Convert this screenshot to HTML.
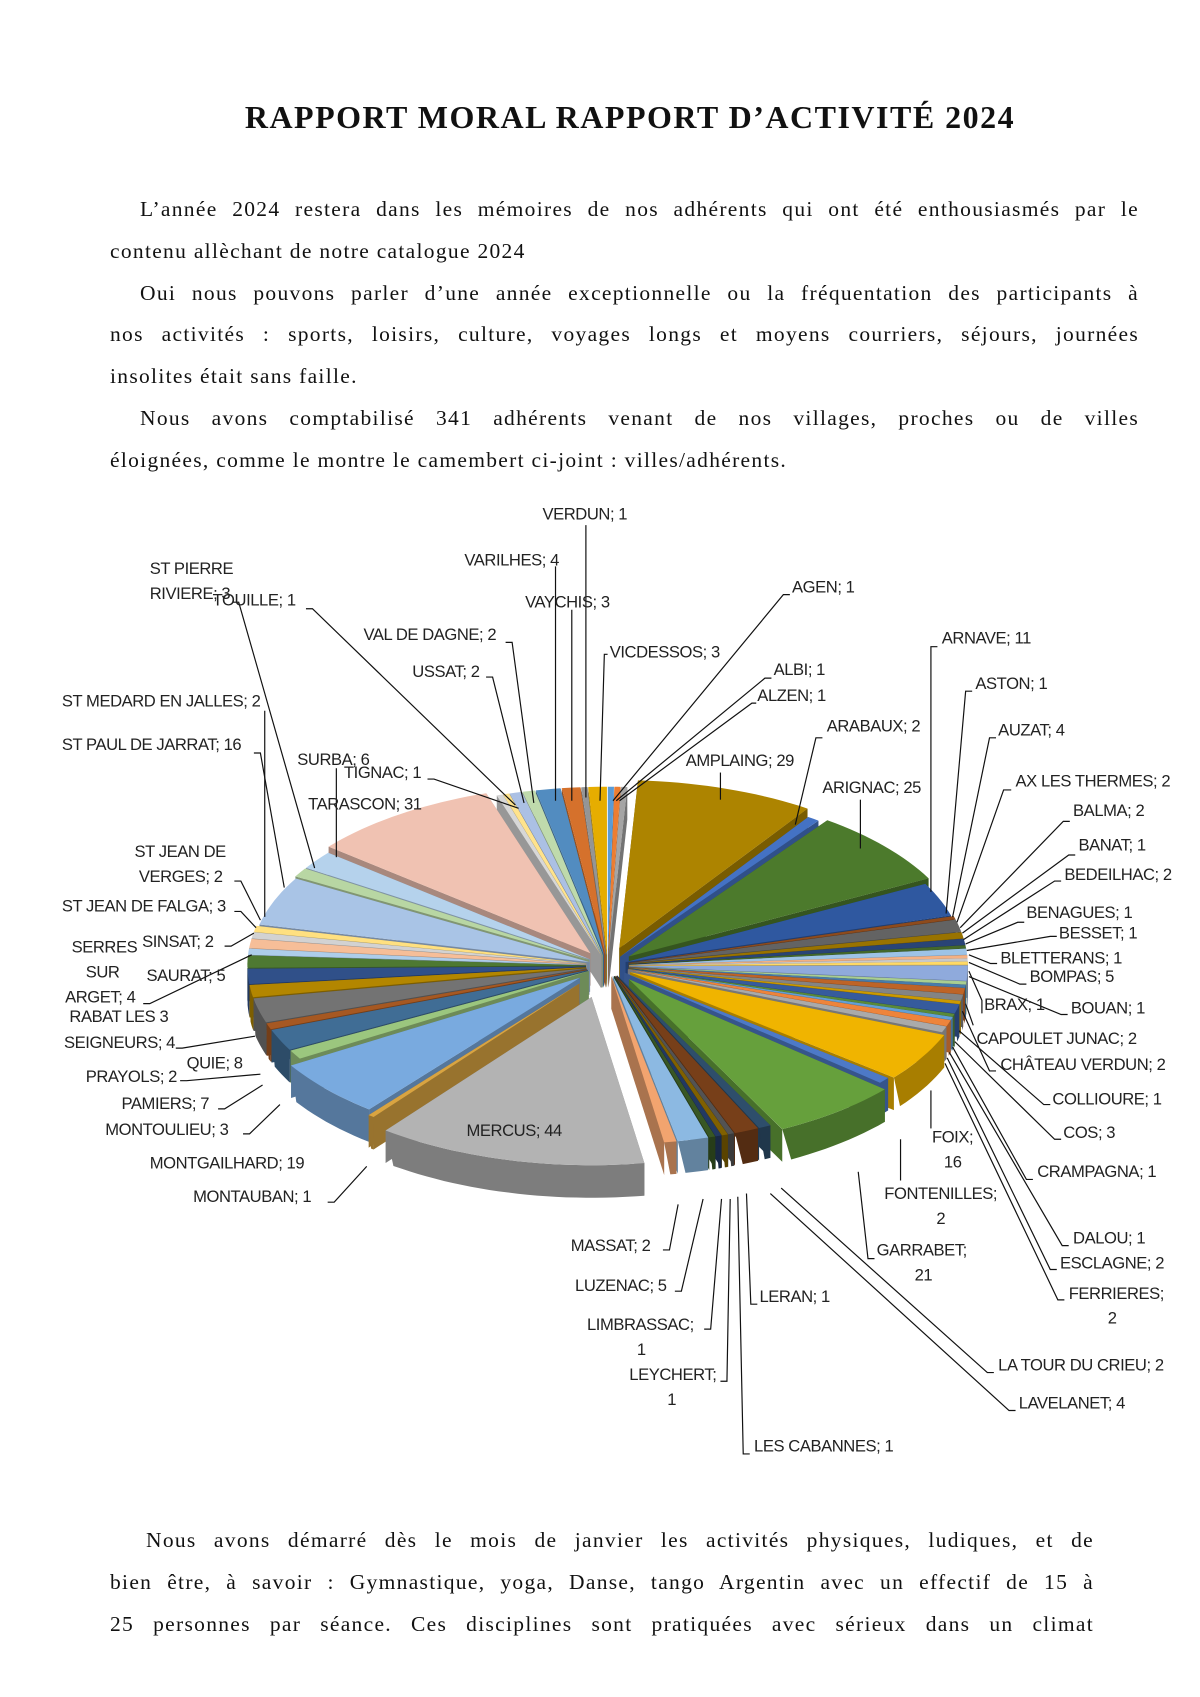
<!DOCTYPE html>
<html><head><meta charset="utf-8"><style>
html,body{margin:0;padding:0;background:#fff}
body{width:1200px;height:1697px;position:relative;overflow:hidden;font-family:"Liberation Serif",serif;color:#111}
h1{position:absolute;top:95px;left:30px;width:1200px;text-align:center;margin:0;font-size:32px;font-weight:bold;letter-spacing:1.5px;line-height:44px}
.p{position:absolute;font-size:21.5px;line-height:41.8px;letter-spacing:1.3px}
.p div{text-align:justify;text-align-last:justify;white-space:nowrap;height:41.8px}
.p div.l{text-align-last:left}
.p div.i{padding-left:30px}
svg{position:absolute;left:0;top:0}
svg text{font-family:"Liberation Sans",sans-serif;font-size:15.3px;fill:#222;letter-spacing:-0.4px}
</style></head><body>
<h1>RAPPORT MORAL RAPPORT D’ACTIVITÉ 2024</h1>
<div class="p" style="left:110px;top:189px;width:1029px">
<div class="i">L’année 2024 restera dans les mémoires de nos adhérents qui ont été enthousiasmés par le</div>
<div class="l">contenu allèchant de notre catalogue 2024</div>
<div class="i">Oui nous pouvons parler d’une année exceptionnelle ou la fréquentation des participants à</div>
<div>nos activités : sports, loisirs, culture, voyages longs et moyens courriers, séjours, journées</div>
<div class="l">insolites était sans faille.</div>
<div class="i">Nous avons comptabilisé 341 adhérents venant de nos villages, proches ou de villes</div>
<div class="l">éloignées, comme le montre le camembert ci-joint : villes/adhérents.</div>
</div>
<div class="p" style="left:110px;top:1520px;width:984px">
<div style="padding-left:36px">Nous avons démarré dès le mois de janvier les activités physiques, ludiques, et de</div>
<div>bien être, à savoir : Gymnastique, yoga, Danse, tango Argentin avec un effectif de 15 à</div>
<div>25 personnes par séance. Ces disciplines sont pratiquées avec sérieux dans un climat</div>
</div>
<svg width="1200" height="1697" viewBox="0 0 1106 1564" xmlns="http://www.w3.org/2000/svg">
<g id="pie"></g>
<g stroke="#111" stroke-width="1.1" fill="none">
<path d="M540 484V735"/><path d="M512 522V738"/><path d="M527 562V738"/><path d="M560 603H557L553 738"/>
<path d="M728 548H722L565 738"/><path d="M711 625H705L568 738"/><path d="M697 648H693L571 738"/>
<path d="M664 712V737"/><path d="M758 680H752L733 760"/><path d="M793 737V782"/>
<path d="M864 596H858V822"/><path d="M896 637H890L872 842"/><path d="M918 680H912L878 845"/>
<path d="M932 728H925L882 850"/><path d="M986 757H980L885 855"/><path d="M991 788H985L887 860"/>
<path d="M978 812H972L888 866"/><path d="M944 850H938L890 870"/><path d="M974 863H968L891 876"/>
<path d="M919 888H913L893 880"/><path d="M946 907H940L893 887"/><path d="M905 934V922L893 895"/>
<path d="M984 935H978L893 900"/><path d="M897 945L890 925"/><path d="M918 987H912L887 932"/>
<path d="M968 1018H962L884 950"/><path d="M978 1050H972L880 960"/><path d="M952 1087H946L878 965"/>
<path d="M985 1148H979L875 970"/><path d="M974 1170H968L873 975"/><path d="M981 1198H975L871 980"/>
<path d="M858 1040V1005"/><path d="M830 1088V1050"/><path d="M806 1160H800L791 1080"/>
<path d="M916 1265H910L720 1095"/><path d="M936 1300H930L710 1100"/><path d="M698 1202H692L688 1100"/>
<path d="M691 1340H685L680 1103"/><path d="M664 1273H670L673 1105"/><path d="M649 1225H655L665 1105"/>
<path d="M622 1190H628L648 1105"/><path d="M611 1152H617L625 1110"/><path d="M302 1108H308L338 1075"/>
<path d="M224 1045H230L258 1018"/><path d="M201 1022H207L242 1000"/><path d="M166 996H172L240 990"/>
<path d="M162 966H168L235 955"/><path d="M132 925H138L232 880"/><path d="M207 872H213L234 860"/>
<path d="M216 840H222L236 855"/><path d="M216 812H222L240 848"/><path d="M244 655V845"/>
<path d="M234 694H240L262 818"/><path d="M214 555H220L290 800"/><path d="M282 561H288L475 742"/>
<path d="M310 708V790"/><path d="M394 718H400L478 745"/><path d="M448 624H454L483 740"/><path d="M466 592H472L492 740"/>
</g>
<g>
<text x="500" y="479">VERDUN; 1</text><text x="428" y="521">VARILHES; 4</text><text x="484" y="560">VAYCHIS; 3</text>
<text x="562" y="606">VICDESSOS; 3</text><text x="730" y="546">AGEN; 1</text><text x="713" y="622">ALBI; 1</text>
<text x="698" y="646">ALZEN; 1</text><text x="632" y="706">AMPLAING; 29</text><text x="762" y="674">ARABAUX; 2</text>
<text x="758" y="731">ARIGNAC; 25</text><text x="868" y="593">ARNAVE; 11</text><text x="899" y="635">ASTON; 1</text>
<text x="920" y="678">AUZAT; 4</text><text x="936" y="725">AX LES THERMES; 2</text><text x="989" y="752">BALMA; 2</text>
<text x="994" y="784">BANAT; 1</text><text x="981" y="811">BEDEILHAC; 2</text><text x="946" y="846">BENAGUES; 1</text>
<text x="976" y="865">BESSET; 1</text><text x="922" y="888">BLETTERANS; 1</text><text x="949" y="905">BOMPAS; 5</text>
<text x="907" y="931">BRAX; 1</text><text x="987" y="934">BOUAN; 1</text><text x="900" y="962">CAPOULET JUNAC; 2</text>
<text x="922" y="986">CHÂTEAU VERDUN; 2</text><text x="970" y="1018">COLLIOURE; 1</text><text x="980" y="1049">COS; 3</text>
<text x="956" y="1085">CRAMPAGNA; 1</text><text x="989" y="1146">DALOU; 1</text><text x="977" y="1169">ESCLAGNE; 2</text>
<text x="985" y="1197">FERRIERES;</text><text x="1021" y="1220">2</text>
<text x="859" y="1053">FOIX;</text><text x="870" y="1076">16</text>
<text x="815" y="1105">FONTENILLES;</text><text x="863" y="1128">2</text>
<text x="808" y="1157">GARRABET;</text><text x="843" y="1180">21</text>
<text x="920" y="1263">LA TOUR DU CRIEU; 2</text><text x="939" y="1298">LAVELANET; 4</text>
<text x="700" y="1200">LERAN; 1</text><text x="695" y="1338">LES CABANNES; 1</text>
<text x="580" y="1272">LEYCHERT;</text><text x="615" y="1295">1</text>
<text x="541" y="1226">LIMBRASSAC;</text><text x="587" y="1249">1</text>
<text x="530" y="1190">LUZENAC; 5</text><text x="526" y="1153">MASSAT; 2</text>
<text x="430" y="1047">MERCUS; 44</text><text x="178" y="1108">MONTAUBAN; 1</text>
<text x="138" y="1077">MONTGAILHARD; 19</text><text x="97" y="1046">MONTOULIEU; 3</text>
<text x="112" y="1022">PAMIERS; 7</text><text x="79" y="997">PRAYOLS; 2</text><text x="172" y="985">QUIE; 8</text>
<text x="64" y="942">RABAT LES 3</text><text x="59" y="966">SEIGNEURS; 4</text>
<text x="66" y="878">SERRES</text><text x="79" y="901">SUR</text><text x="60" y="924">ARGET; 4</text>
<text x="135" y="904">SAURAT; 5</text><text x="131" y="873">SINSAT; 2</text><text x="57" y="840">ST JEAN DE FALGA; 3</text>
<text x="124" y="790">ST JEAN DE</text><text x="128" y="813">VERGES; 2</text>
<text x="57" y="651">ST MEDARD EN JALLES; 2</text><text x="57" y="691">ST PAUL DE JARRAT; 16</text>
<text x="138" y="529">ST PIERRE</text><text x="138" y="552">RIVIERE; 3</text><text x="196" y="558">TOUILLE; 1</text>
<text x="274" y="705">SURBA; 6</text><text x="317" y="717">TIGNAC; 1</text><text x="284" y="746">TARASCON; 31</text>
<text x="380" y="624">USSAT; 2</text><text x="335" y="590">VAL DE DAGNE; 2</text>
</g>
</svg>
<script>
(function(){
var d=[["AGEN",1],["ALBI",1],["ALZEN",1],["AMPLAING",29,"#ad8400",34],["ARABAUX",2],["ARIGNAC",25,"#4c7a2c",26],["ARNAVE",11,"#2f58a0",18],["ASTON",1],["AUZAT",4],["AX",2],["BALMA",2],["BANAT",1],["BEDEILHAC",2],["BENAGUES",1],["BESSET",1],["BLETTERANS",1],["BOMPAS",5],["BOUAN",1],["BRAX",1],["CAPOULET",2],["CHATEAU",2],["COLLIOURE",1],["COS",3],["CRAMPAGNA",1],["DALOU",1],["ESCLAGNE",2],["FERRIERES",2],["FOIX",16,"#f0b400",24],["FONTENILLES",2],["GARRABET",21,"#66a03c",32],["LATOUR",2],["LAVELANET",4],["LERAN",1],["LESCAB",1],["LEYCHERT",1],["LIMBRASSAC",1],["LUZENAC",5],["MASSAT",2],["MERCUS",44,"#b3b3b3",60],["MONTAUBAN",1,"#d9a441",42],["MONTGAILHARD",19,"#79aadf",34],["MONTOULIEU",3],["PAMIERS",7],["PRAYOLS",2],["QUIE",8],["RABAT",4],["SAURAT",5],["SERRES",4],["SINSAT",2],["STJF",3],["STJV",2],["STMEDARD",2],["STPAUL",16,"#a9c4e6",18],["STPIERRE",3],["SURBA",6],["TARASCON",31,"#f0c2b2",28],["TIGNAC",1],["TOUILLE",1],["USSAT",2],["VALDEDAGNE",2],["VARILHES",4],["VAYCHIS",3],["VERDUN",1],["VICDESSOS",3]];
var base=['#5B9BD5','#ED7D31','#A5A5A5','#FFC000','#4472C4','#70AD47'];
var gm=[0,-0.4,0.4,-0.2,0.05,-0.5,0.3,-0.3,0.5,0.55,-0.1];
function rgb(h){return [parseInt(h.substr(1,2),16),parseInt(h.substr(3,2),16),parseInt(h.substr(5,2),16)];}
function sh(h,f){var c=rgb(h);c=c.map(function(v){return Math.round(f>0?v+(255-v)*f:v*(1+f));});return 'rgb('+c.join(',')+')';}
var cx=560,cy=890,rx=312,ry=155,dp=30,tot=341,acc=0,sl=[];
d.forEach(function(e,i){var a1=acc/tot*2*Math.PI;acc+=e[1];var a2=acc/tot*2*Math.PI;
var col=e[2]||sh(base[i%6],gm[Math.floor(i/6)%gm.length]);var ex=e[3]||20;var m=(a1+a2)/2;
sl.push({a1:a1,a2:a2,m:m,c:col,ox:ex*Math.sin(m),oy:-ex*Math.cos(m)*ry/rx});});
function P(a,s,o){return [s.ox+cx+rx*Math.sin(a),s.oy+cy-ry*Math.cos(a)+o];}
function arc(s,a,b,o,rev){var st=rev?b:a,en=rev?a:b,n=Math.max(2,Math.ceil(Math.abs(b-a)/0.03)),r='';for(var k=1;k<=n;k++){var t=st+(en-st)*k/n,p=P(t,s,o);r+=' L'+p[0].toFixed(1)+' '+p[1].toFixed(1);}return r;}
sl.sort(function(a,b){return -Math.cos(a.m)- -Math.cos(b.m);});
var g=document.getElementById('pie'),h='';
sl.forEach(function(s){var C=[s.ox+cx,s.oy+cy];
var dk=s.c.charAt(0)=='#'?sh(s.c,-0.3):s.c.replace(/rgb\((\d+),(\d+),(\d+)\)/,function(_,r,gg,b){return 'rgb('+Math.round(r*0.7)+','+Math.round(gg*0.7)+','+Math.round(b*0.7)+')';});
[s.a1,s.a2].forEach(function(a){var p=P(a,s,0);h+='<path d="M'+C[0]+' '+C[1]+' L'+p[0]+' '+p[1]+' L'+p[0]+' '+(p[1]+dp)+' L'+C[0]+' '+(C[1]+dp)+'Z" fill="'+dk+'"/>';});
var lo=Math.max(s.a1,Math.PI/2),hi=Math.min(s.a2,Math.PI*1.5);
if(hi>lo){var p0=P(lo,s,0);h+='<path d="M'+p0[0]+' '+p0[1]+arc(s,lo,hi,0,false)+arc(s,lo,hi,dp,true)+'Z" fill="'+dk+'"/>';}
h+='<path d="M'+C[0]+' '+C[1]+' L'+P(s.a1,s,0).join(' ')+arc(s,s.a1,s.a2,0,false)+'Z" fill="'+s.c+'"/>';});
g.innerHTML=h;
})();
</script>
</body></html>
